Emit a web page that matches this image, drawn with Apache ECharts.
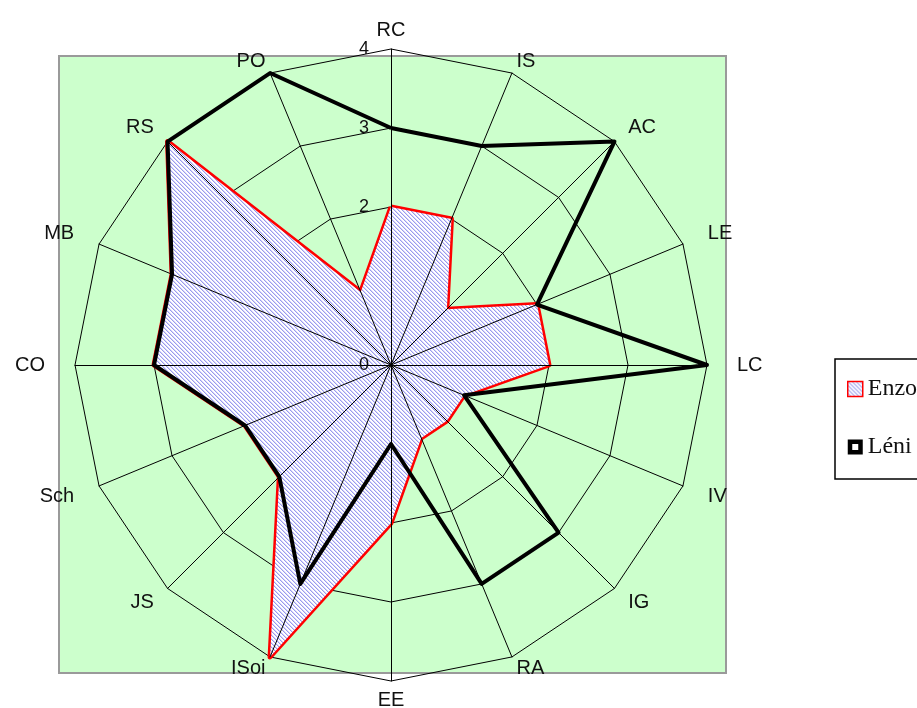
<!DOCTYPE html>
<html>
<head>
<meta charset="utf-8">
<script src="https://cdn.jsdelivr.net/npm/echarts@6/dist/echarts.min.js"></script>
<style>
html,body{margin:0;padding:0;background:#fff;}
#chart{width:917px;height:708px;}
</style>
</head>
<body>
<div id="chart"></div>
<script>
// Categories listed clockwise from the top
const categories = ['RC','IS','AC','LE','LC','IV','IG','RA','EE','ISoi','JS','Sch','CO','MB','RS','PO'];
const enzo = [2, 2, 1, 2, 2, 1, 1, 1, 2, 4, 2, 2, 3, 3, 4, 1];
const leni = [3, 3, 4, 2, 4, 1, 3, 3, 1, 3, 2, 2, 3, 3, 4, 4];
const seriesNames = ['Enzo', 'Léni'];
const axisMax = 4;

// ECharts places indicators counter-clockwise: keep first, reverse the rest
const order = [0].concat(categories.map((c, i) => i).slice(1).reverse());

// name gap grows toward the sides (the original plot is slightly wider than tall)
function gapFor(k) {
  const th = k * 2 * Math.PI / categories.length;
  const s = Math.sin(th);
  return 9 + 21 * s * s;
}

// hatch pattern for Enzo area
const pc = document.createElement('canvas');
pc.width = 4; pc.height = 4;
const g = pc.getContext('2d');
g.fillStyle = '#ffffff'; g.fillRect(0, 0, 4, 4);
for (let i = 0; i < 4; i++) {
  g.fillStyle = '#9a9aee'; g.fillRect(i, i, 1, 1);
  g.fillStyle = '#d6d6fa'; g.fillRect((i + 1) % 4, i, 1, 1);
}
const hatch = { image: pc, repeat: 'repeat' };

const center = [391, 365];
const radius = 316;

const ringRadar = {
  center: center, radius: radius, shape: 'polygon', splitNumber: 4, startAngle: 90, z: 1,
  indicator: order.map((i, k) => ({ name: categories[i], min: 0, max: axisMax, nameGap: gapFor(k) })),
  nameGap: 9,
  axisName: { color: '#111', fontFamily: 'Liberation Sans, Arial, sans-serif', fontSize: 20 },
  splitLine: { show: true, lineStyle: { color: '#000', width: 1 } },
  splitArea: { show: false },
  axisLine: { show: false },
  axisTick: { show: false },
  axisLabel: { show: false }
};
const spokeRadar = {
  center: center, radius: radius, shape: 'polygon', splitNumber: 4, startAngle: 90, z: 3,
  indicator: order.map((i, k) => k === 0
    ? { name: '', min: 0, max: axisMax, axisLabel: { show: true } }
    : { name: '', min: 0, max: axisMax }),
  splitLine: { show: false },
  splitArea: { show: false },
  axisLine: { show: true, lineStyle: { color: '#000', width: 1 } },
  axisTick: { show: false },
  axisLabel: {
    show: false, margin: 22, color: '#111', fontFamily: 'Liberation Sans, Arial, sans-serif', fontSize: 18,
    formatter: v => (v === 1 ? '' : String(v))
  }
};

const chart = echarts.init(document.getElementById('chart'), null, { renderer: 'canvas' });
chart.setOption({
  backgroundColor: '#ffffff',
  animation: false,
  graphic: [{
    type: 'rect', z: -10, left: 58, top: 55,
    shape: { width: 667, height: 617 },
    style: { fill: '#ccffcc', stroke: '#9a9a9a', lineWidth: 2 }
  }],
  legend: {
    orient: 'vertical', left: 835, top: 359,
    padding: [18, 60, 20, 12], itemGap: 34,
    itemWidth: 15, itemHeight: 15,
    backgroundColor: '#fff', borderColor: '#000', borderWidth: 1.5, borderRadius: 0,
    textStyle: { fontFamily: 'Liberation Serif, Times New Roman, serif', fontSize: 24, color: '#111' },
    data: [
      { name: seriesNames[0], icon: 'rect', itemStyle: { color: hatch, borderColor: '#ff0000', borderWidth: 1.5 } },
      { name: seriesNames[1], icon: 'path://M0,0H10V10H0Z M3,3V7H7V3Z', itemStyle: { color: '#000', borderWidth: 0 } }
    ]
  },
  radar: [ringRadar, spokeRadar],
  series: [{
    type: 'radar', radarIndex: 0, z: 2, symbol: 'none',
    data: [
      { name: seriesNames[0], value: order.map(i => enzo[i]),
        lineStyle: { color: '#ff0000', width: 5 },
        areaStyle: { color: hatch, opacity: 1 },
        itemStyle: { color: '#ff0000' } },
      { name: seriesNames[1], value: order.map(i => leni[i]),
        lineStyle: { color: '#000', width: 4 },
        itemStyle: { color: '#000' } }
    ]
  }]
});
</script>
</body>
</html>
